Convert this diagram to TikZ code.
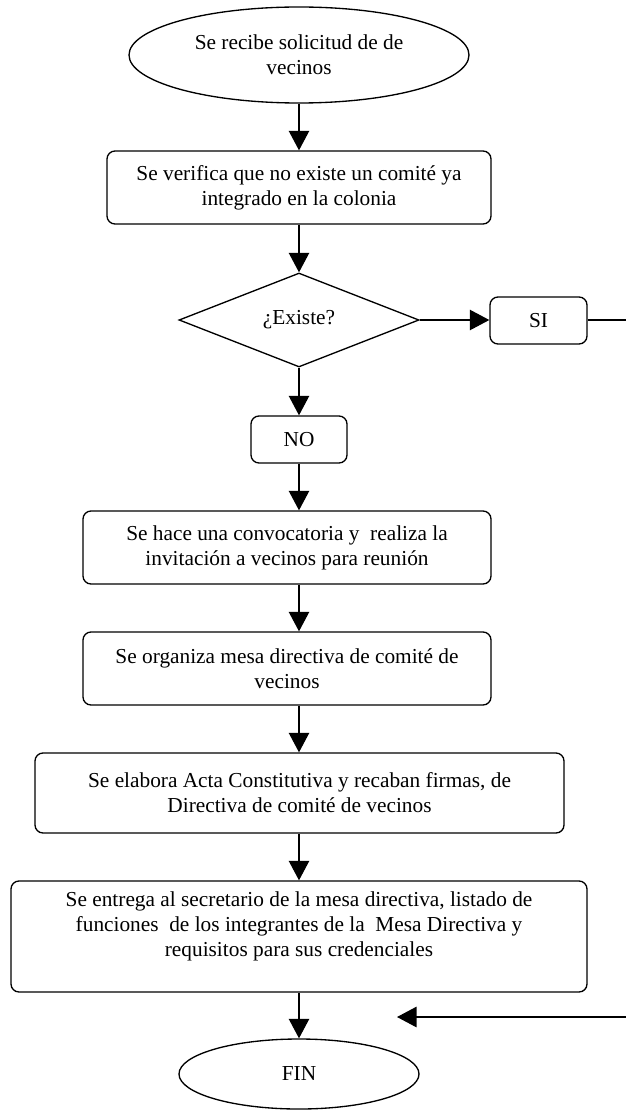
\documentclass[tikz,border=0pt]{standalone}
\usepackage{fontspec}
\setmainfont{Liberation Serif}
\usetikzlibrary{shapes.geometric,arrows.meta}
\def\u{0.5627pt}
\tikzset{
  every node/.style={font=\fontsize{12}{14}\selectfont, align=center, line width=0.75pt},
  stepbox/.style={draw, rounded corners=4.5pt, inner sep=0pt},
  term/.style={draw, ellipse, inner sep=0pt},
  decide/.style={draw, diamond, inner sep=0pt},
  arr/.style={line width=0.75pt, -{Triangle[length=11pt,width=11.5pt]}},
  plain/.style={line width=0.75pt},
}
\begin{document}
\begin{tikzpicture}[x=\u, y=-\u]
\useasboundingbox (0,0) rectangle (626,1111);

% start
\node[term, minimum width=340*\u, minimum height=96*\u] (start) at (299,55)
  {Se recibe solicitud de de\\vecinos};
% verification
\node[stepbox, minimum width=384*\u, minimum height=73*\u] (verif) at (299,187.5)
  {Se verifica que no existe un comité ya\\integrado en la colonia};
% decision
\node[decide, minimum width=240*\u, minimum height=94*\u] (exist) at (299,320)
  {\raisebox{3pt}{¿Existe?}};
\node[stepbox, minimum width=97*\u, minimum height=47*\u] (si) at (538.5,320.5) {SI};
\node[stepbox, minimum width=96*\u, minimum height=47*\u] (no) at (299,439.5) {NO};
% process steps
\node[stepbox, minimum width=408*\u, minimum height=73*\u] (conv) at (287,547.5)
  {Se hace una convocatoria y \ realiza la\\invitación a vecinos para reunión};
\node[stepbox, minimum width=408*\u, minimum height=73*\u] (org) at (287,668.5)
  {Se organiza mesa directiva de comité de\\vecinos};
\node[stepbox, minimum width=529*\u, minimum height=80*\u] (acta) at (299.5,793)
  {Se elabora Acta Constitutiva y recaban firmas, de\\Directiva de comité de vecinos};
\node[stepbox, minimum width=576*\u, minimum height=111*\u] (entrega) at (299,936.5)
  {Se entrega al secretario de la mesa directiva, listado de\\funciones \ de los integrantes de la \ Mesa Directiva y\\requisitos para sus credenciales\\\mbox{}};
% end
\node[term, minimum width=240*\u, minimum height=70*\u] (fin) at (299,1074) {FIN};

% connectors
\draw[arr] (start.south) -- (verif.north);
\draw[arr] (verif.south) -- (exist.north);
\draw[arr] (exist.east) -- (si.west |- exist.east);
\coordinate (siout) at (626,320);
\draw[plain] (si.east |- siout) -- (siout);
\draw[arr] (exist.south) -- (no.north);
\draw[arr] (no.south) -- (no.south |- conv.north);
\draw[arr] (no.south |- conv.south) -- (no.south |- org.north);
\draw[arr] (no.south |- org.south) -- (acta.north -| no.south);
\draw[arr] (acta.south -| no.south) -- (entrega.north -| no.south);
\draw[arr] (entrega.south -| fin.north) -- (fin.north);
\coordinate (retin) at (626,1017);
\coordinate (retend) at (397,1017);
\draw[arr] (retin) -- (retend);
\end{tikzpicture}
\end{document}
